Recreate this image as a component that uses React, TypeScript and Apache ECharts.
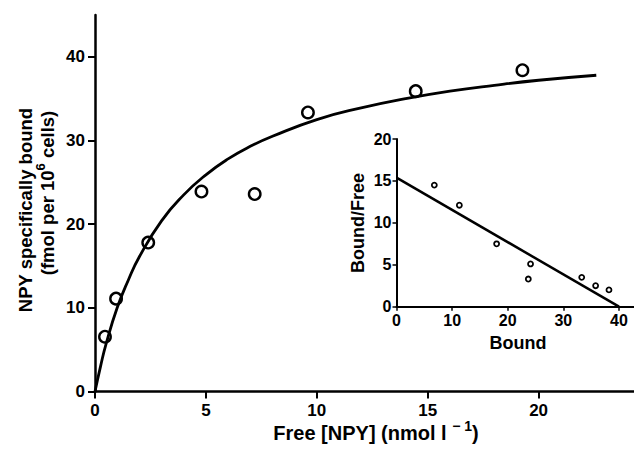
import React, { useEffect, useRef } from "react";
import * as echarts from "echarts";

// Main saturation data (Free NPY, nmol/l  vs  bound, fmol per 10^6 cells)
const freeNPY = [0.45, 0.95, 2.4, 4.8, 7.2, 9.6, 14.46, 19.27];
const boundNPY = [6.55, 11.1, 17.8, 23.9, 23.6, 33.35, 35.9, 38.4];

// Fitted saturation curve
const fitX = [0, 0.25, 0.5, 1, 1.5, 2, 3, 4, 5, 6, 7, 8, 10, 12, 14, 16, 18, 20, 22.6];
const fitY = [0, 3.0, 5.7, 10.0, 13.3, 16.1, 20.4, 23.5, 25.9, 27.8, 29.3, 30.5, 32.5, 33.9, 35.0, 35.9, 36.6, 37.2, 37.8];

// Scatchard inset
const insetBound = [6.8, 11.3, 18.0, 24.1, 23.7, 33.3, 35.8, 38.2];
const insetRatio = [14.5, 12.1, 7.5, 5.1, 3.3, 3.5, 2.5, 2.0];
const insetLineX = [0, 40];
const insetLineY = [15.4, 0];

const mainXTicks = [0, 5, 10, 15, 20];
const mainYTicks = [0, 10, 20, 30, 40];
const insetXTicks = [0, 10, 20, 30, 40];
const insetYTicks = [0, 5, 10, 15, 20];

const FONT = "'Liberation Sans', Arial, Helvetica, sans-serif";

export default function App() {
  const ref = useRef<HTMLDivElement>(null);
  useEffect(() => {
    if (!ref.current) return;
    const chart = echarts.init(ref.current, null, { renderer: "svg" });
    const labelStyle = { color: "#000", fontFamily: FONT, fontWeight: "bold" as const };
    const titleText = (size: number, supSize: number) => ({
      fill: "#000",
      fontFamily: FONT,
      fontWeight: "bold",
      fontSize: size,
      lineHeight: size + 8,
      align: "center",
      verticalAlign: "middle",
      textAlign: "center",
      textVerticalAlign: "middle",
      rich: {
        n: { fontFamily: FONT, fontWeight: "bold", fontSize: size, lineHeight: size + 8, fill: "#000", verticalAlign: "middle" },
        sup: { fontFamily: FONT, fontWeight: "bold", fontSize: supSize, lineHeight: supSize, fill: "#000", verticalAlign: "top" },
      },
    });
    chart.setOption({
      animation: false,
      backgroundColor: "#fff",
      grid: [
        { left: 95, right: 0, top: 15, bottom: 59.5 },
        { left: 396.5, right: 0, top: 139, bottom: 144.3 },
      ],
      xAxis: [
        {
          gridIndex: 0, type: "value", min: 0, max: 24.3,
          axisLine: { lineStyle: { color: "#000", width: 2.5 }, onZero: false },
          axisTick: { show: true, length: 7, lineStyle: { color: "#000", width: 2 }, customValues: mainXTicks },
          axisLabel: { ...labelStyle, fontSize: 17, margin: 10, customValues: mainXTicks },
          splitLine: { show: false },
        },
        {
          gridIndex: 1, type: "value", min: 0, max: 42.7,
          axisLine: { lineStyle: { color: "#000", width: 2 }, onZero: false },
          axisTick: { show: true, length: 4, lineStyle: { color: "#000", width: 1.5 }, customValues: insetXTicks },
          axisLabel: { ...labelStyle, fontSize: 16, margin: 6, customValues: insetXTicks },
          splitLine: { show: false },
        },
      ],
      yAxis: [
        {
          gridIndex: 0, type: "value", min: 0, max: 45,
          axisLine: { show: true, lineStyle: { color: "#000", width: 2.5 }, onZero: false },
          axisTick: { show: true, length: 7, lineStyle: { color: "#000", width: 2 }, customValues: mainYTicks },
          axisLabel: { ...labelStyle, fontSize: 17, margin: 10, customValues: mainYTicks },
          splitLine: { show: false },
        },
        {
          gridIndex: 1, type: "value", min: 0, max: 20, interval: 5,
          axisLine: { show: true, lineStyle: { color: "#000", width: 2 }, onZero: false },
          axisTick: { show: true, length: 4, lineStyle: { color: "#000", width: 1.5 }, customValues: insetYTicks },
          axisLabel: { ...labelStyle, fontSize: 16, margin: 5, customValues: insetYTicks },
          splitLine: { show: false },
        },
      ],
      series: [
        {
          type: "line", xAxisIndex: 0, yAxisIndex: 0, smooth: true, symbol: "none",
          lineStyle: { color: "#000", width: 2.8 },
          data: fitX.map((x, i) => [x, fitY[i]]), z: 2,
        },
        {
          type: "scatter", xAxisIndex: 0, yAxisIndex: 0, symbol: "circle", symbolSize: 11.5,
          itemStyle: { color: "rgba(255,255,255,0)", borderColor: "#000", borderWidth: 2.4, opacity: 1 },
          data: freeNPY.map((x, i) => [x, boundNPY[i]]), z: 3,
        },
        {
          type: "line", xAxisIndex: 1, yAxisIndex: 1, symbol: "none",
          lineStyle: { color: "#000", width: 2.5 },
          data: insetLineX.map((x, i) => [x, insetLineY[i]]), z: 2,
        },
        {
          type: "scatter", xAxisIndex: 1, yAxisIndex: 1, symbol: "circle", symbolSize: 5,
          itemStyle: { color: "rgba(255,255,255,0)", borderColor: "#000", borderWidth: 1.8, opacity: 1 },
          data: insetBound.map((x, i) => [x, insetRatio[i]]), z: 3,
        },
      ],
      graphic: [
        {
          type: "text", x: 376, y: 433,
          style: { ...titleText(20, 14), text: "{n|Free [NPY] (nmol l }{sup|\u2212 1}{n|)}" },
        },
        {
          type: "text", x: 25, y: 210, rotation: Math.PI / 2,
          style: { ...titleText(18.5, 13), text: "{n|NPY specifically bound}" },
        },
        {
          type: "text", x: 47, y: 193, rotation: Math.PI / 2,
          style: { ...titleText(18.5, 13), text: "{n|(fmol per 10}{sup|6}{n| cells)}" },
        },
        {
          type: "text", x: 358, y: 223, rotation: Math.PI / 2,
          style: { ...titleText(18, 13), text: "{n|Bound/Free}" },
        },
        {
          type: "text", x: 518, y: 343,
          style: { ...titleText(18, 13), text: "{n|Bound}" },
        },
      ],
    });
    return () => chart.dispose();
  }, []);
  return (
    <div
      ref={ref}
      style={{ position: "fixed", left: 0, top: 0, width: 634, height: 451, background: "#fff" }}
    />
  );
}
